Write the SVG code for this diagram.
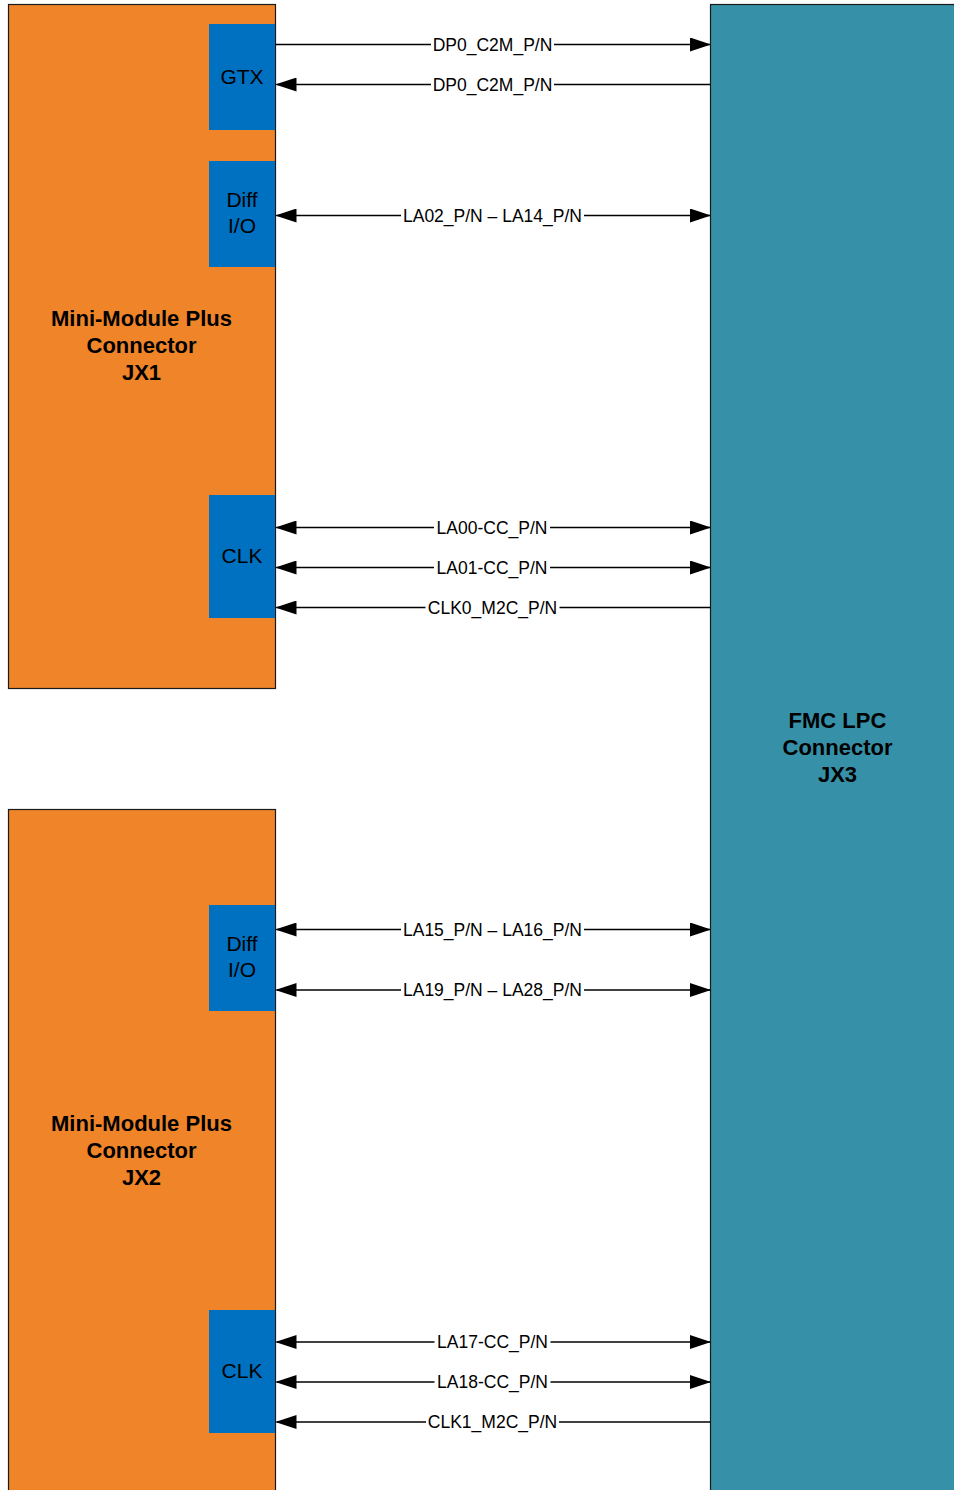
<svg xmlns="http://www.w3.org/2000/svg" width="954" height="1490" viewBox="0 0 954 1490">
<style>
.mm{fill:#F08428;stroke:#1a1a1a;stroke-width:1.2}
.fmc{fill:#3691A8;stroke:#1a1a1a;stroke-width:1.2}
.blk{fill:#0070C0}
.big{font-family:"Liberation Sans",Arial,sans-serif;font-weight:bold;font-size:22px;fill:#000;text-anchor:middle}
.sm{font-family:"Liberation Sans",Arial,sans-serif;font-size:21px;fill:#000;text-anchor:middle}
.lbl{font-family:"Liberation Sans",Arial,sans-serif;font-size:17.5px;fill:#000;text-anchor:middle}
.ln{stroke:#000;stroke-width:1.3;fill:none}
.bg{fill:#fff}
</style>
<defs>
<marker id="ah" markerUnits="userSpaceOnUse" markerWidth="21" markerHeight="14" refX="20" refY="7" orient="auto-start-reverse" viewBox="0 0 21 14">
<path d="M0,0 L21,7 L0,14 z" fill="#000"/>
</marker>
</defs>
<rect width="954" height="1490" fill="#fff"/>

<g id="fmc">
<rect class="fmc" x="710.5" y="4.5" width="250" height="1500"/>
<text class="big" x="837.5" y="728">FMC LPC</text>
<text class="big" x="837.5" y="755">Connector</text>
<text class="big" x="837.5" y="781.5">JX3</text>
</g>

<g id="jx1">
<rect class="mm" x="8.5" y="4.5" width="267" height="684"/>
<text class="big" x="141.5" y="326">Mini-Module Plus</text>
<text class="big" x="141.5" y="353">Connector</text>
<text class="big" x="141.5" y="380">JX1</text>
</g>
<g id="jx1-gtx">
<rect class="blk" x="209" y="24" width="66" height="106"/>
<text class="sm" x="242" y="84">GTX</text>
</g>
<g id="jx1-diff">
<rect class="blk" x="209" y="161" width="66" height="106"/>
<text class="sm" x="242" y="207">Diff</text>
<text class="sm" x="242" y="233">I/O</text>
</g>
<g id="jx1-clk">
<rect class="blk" x="209" y="495" width="66" height="123"/>
<text class="sm" x="242" y="563">CLK</text>
</g>

<g id="jx2">
<rect class="mm" x="8.5" y="809.5" width="267" height="700"/>
<text class="big" x="141.5" y="1131">Mini-Module Plus</text>
<text class="big" x="141.5" y="1158">Connector</text>
<text class="big" x="141.5" y="1185">JX2</text>
</g>
<g id="jx2-diff">
<rect class="blk" x="209" y="905" width="66" height="106"/>
<text class="sm" x="242" y="951">Diff</text>
<text class="sm" x="242" y="977">I/O</text>
</g>
<g id="jx2-clk">
<rect class="blk" x="209" y="1310" width="66" height="123"/>
<text class="sm" x="242" y="1378">CLK</text>
</g>

<g id="connectors">
<line class="ln" x1="275.5" y1="44.5" x2="710" y2="44.5" marker-end="url(#ah)"/>
<rect class="bg" x="431" y="36" width="123" height="16"/>
<text class="lbl" x="492.5" y="50.5">DP0_C2M_P/N</text>

<line class="ln" x1="276.5" y1="84.5" x2="710.5" y2="84.5" marker-start="url(#ah)"/>
<rect class="bg" x="431" y="76" width="123" height="16"/>
<text class="lbl" x="492.5" y="90.5">DP0_C2M_P/N</text>

<line class="ln" x1="276.5" y1="215.5" x2="710" y2="215.5" marker-start="url(#ah)" marker-end="url(#ah)"/>
<rect class="bg" x="401" y="207" width="183" height="16"/>
<text class="lbl" x="492.5" y="221.5">LA02_P/N – LA14_P/N</text>

<line class="ln" x1="276.5" y1="527.5" x2="710" y2="527.5" marker-start="url(#ah)" marker-end="url(#ah)"/>
<rect class="bg" x="434" y="519" width="116" height="16"/>
<text class="lbl" x="492" y="533.5">LA00-CC_P/N</text>

<line class="ln" x1="276.5" y1="567.5" x2="710" y2="567.5" marker-start="url(#ah)" marker-end="url(#ah)"/>
<rect class="bg" x="434" y="559" width="116" height="16"/>
<text class="lbl" x="492" y="573.5">LA01-CC_P/N</text>

<line class="ln" x1="276.5" y1="607.5" x2="710.5" y2="607.5" marker-start="url(#ah)"/>
<rect class="bg" x="425.5" y="599" width="134" height="16"/>
<text class="lbl" x="492.5" y="613.5">CLK0_M2C_P/N</text>

<line class="ln" x1="276.5" y1="929.5" x2="710" y2="929.5" marker-start="url(#ah)" marker-end="url(#ah)"/>
<rect class="bg" x="401" y="921" width="183" height="16"/>
<text class="lbl" x="492.5" y="935.5">LA15_P/N – LA16_P/N</text>

<line class="ln" x1="276.5" y1="990" x2="710" y2="990" marker-start="url(#ah)" marker-end="url(#ah)"/>
<rect class="bg" x="401" y="981.5" width="183" height="16"/>
<text class="lbl" x="492.5" y="996">LA19_P/N – LA28_P/N</text>

<line class="ln" x1="276.5" y1="1342" x2="710" y2="1342" marker-start="url(#ah)" marker-end="url(#ah)"/>
<rect class="bg" x="434.5" y="1333.5" width="116" height="16"/>
<text class="lbl" x="492.5" y="1348">LA17-CC_P/N</text>

<line class="ln" x1="276.5" y1="1382" x2="710" y2="1382" marker-start="url(#ah)" marker-end="url(#ah)"/>
<rect class="bg" x="434.5" y="1373.5" width="116" height="16"/>
<text class="lbl" x="492.5" y="1388">LA18-CC_P/N</text>

<line class="ln" x1="276.5" y1="1422" x2="710.5" y2="1422" marker-start="url(#ah)"/>
<rect class="bg" x="426" y="1413.5" width="133" height="16"/>
<text class="lbl" x="492.5" y="1428">CLK1_M2C_P/N</text>
</g>
</svg>
